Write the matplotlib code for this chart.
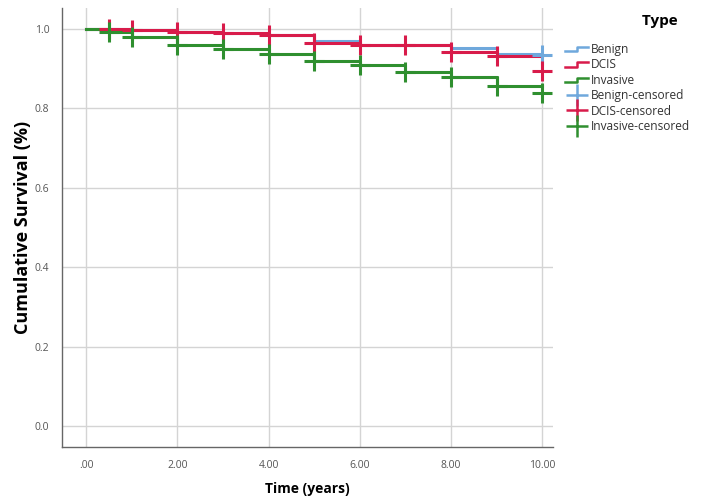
import matplotlib
matplotlib.use("Agg")
import matplotlib.pyplot as plt
from matplotlib.lines import Line2D
from matplotlib.legend_handler import HandlerLine2D

plt.rcParams['font.family'] = ['Open Sans', 'DejaVu Sans']

# ====== 数据：各组生存曲线（阶梯）与删失点 ======
times = [0, 0.5, 1, 2, 3, 4, 5, 6, 7, 8, 9, 10]
benign_surv = [1.0, 1.0, 0.997, 0.993, 0.990, 0.984, 0.970, 0.961, 0.961, 0.951, 0.938, 0.938]
dcis_surv = [1.0, 1.0, 0.997, 0.993, 0.990, 0.984, 0.966, 0.960, 0.960, 0.942, 0.932, 0.932]
invasive_surv = [1.0, 0.993, 0.979, 0.960, 0.950, 0.936, 0.920, 0.909, 0.891, 0.880, 0.856, 0.856]

benign_cens_t = [10]
benign_cens_s = [0.935]
dcis_cens_t = [0.5, 1, 2, 3, 4, 5, 6, 7, 8, 9, 10]
dcis_cens_s = [1.0, 0.997, 0.993, 0.990, 0.984, 0.966, 0.960, 0.960, 0.942, 0.932, 0.895]
invasive_cens_t = [0.5, 1, 2, 3, 4, 5, 6, 7, 8, 9, 10]
invasive_cens_s = [0.993, 0.979, 0.960, 0.950, 0.936, 0.920, 0.909, 0.891, 0.880, 0.856, 0.840]

c_benign = "#6fa8dc"
c_dcis = "#d81b4a"
c_inv = "#2f8f2f"


class HandlerStep(HandlerLine2D):
    # 图例里画成阶梯形状
    def create_artists(self, legend, orig_handle, xdescent, ydescent, width, height, fontsize, trans):
        xs = [-xdescent, -xdescent + width * 0.5, -xdescent + width * 0.5, -xdescent + width * 0.95]
        y0 = -ydescent + height * 0.2
        y1 = -ydescent + height * 0.75
        ys = [y0, y0, y1, y1]
        ln = Line2D(xs, ys, color=orig_handle.get_color(), lw=1.8, transform=trans)
        return [ln]


fig = plt.figure(figsize=(7.11, 5.0), dpi=100)
ax = fig.add_axes([0.0872, 0.106, 0.691, 0.878])

ax.set_xlim(-0.53, 10.24)
ax.set_ylim(-0.053, 1.053)
ax.set_xticks([0, 2, 4, 6, 8, 10])
ax.set_xticklabels([".00", "2.00", "4.00", "6.00", "8.00", "10.00"])
ax.set_yticks([0, 0.2, 0.4, 0.6, 0.8, 1.0])
ax.set_yticklabels(["0.0", "0.2", "0.4", "0.6", "0.8", "1.0"])
ax.grid(True, color="#d4d4d4", lw=1.0)
ax.set_axisbelow(True)
ax.tick_params(length=0, labelsize=7.5, labelcolor="#555555")
ax.tick_params(axis="x", pad=9)
ax.tick_params(axis="y", pad=9)
for s in ["top", "right"]:
    ax.spines[s].set_visible(False)
for s in ["left", "bottom"]:
    ax.spines[s].set_color("#666666")
    ax.spines[s].set_linewidth(1.0)

lw = 2.2
l1, = ax.step(times, benign_surv, where="post", color=c_benign, lw=lw)
l2, = ax.step(times, dcis_surv, where="post", color=c_dcis, lw=lw)
l3, = ax.step(times, invasive_surv, where="post", color=c_inv, lw=lw)

ms = 14
mew = 2.2
m1, = ax.plot(benign_cens_t, benign_cens_s, "+", color=c_benign, ms=ms, mew=mew, ls="none")
m2, = ax.plot(dcis_cens_t, dcis_cens_s, "+", color=c_dcis, ms=ms, mew=mew, ls="none")
m3, = ax.plot(invasive_cens_t, invasive_cens_s, "+", color=c_inv, ms=ms, mew=mew, ls="none")

ax.set_xlabel("Time (years)", fontsize=10, fontweight="bold", labelpad=8)
ax.set_ylabel("Cumulative Survival (%)", fontsize=13, fontweight="bold", labelpad=2)

leg_m = [Line2D([], [], marker="+", color=c, ms=16, mew=1.8, ls="none") for c in (c_benign, c_dcis, c_inv)]
leg = fig.legend([l1, l2, l3] + leg_m,
                 ["Benign", "DCIS", "Invasive", "Benign-censored", "DCIS-censored", "Invasive-censored"],
                 handler_map={l1: HandlerStep(), l2: HandlerStep(), l3: HandlerStep()},
                 loc="upper left", bbox_to_anchor=(0.788, 0.982), frameon=False,
                 fontsize=8.6, title="Type   ", handlelength=2.0, handletextpad=0.15,
                 labelspacing=0.2, borderaxespad=0)
leg.get_title().set_fontweight("bold")
leg.get_title().set_fontsize(11)
leg.get_title().set_horizontalalignment("center")
leg._legend_box.sep = 11
leg._legend_box.align = "right"
for t in leg.get_texts():
    t.set_color("#333333")

fig.savefig("out.png", dpi=100)
